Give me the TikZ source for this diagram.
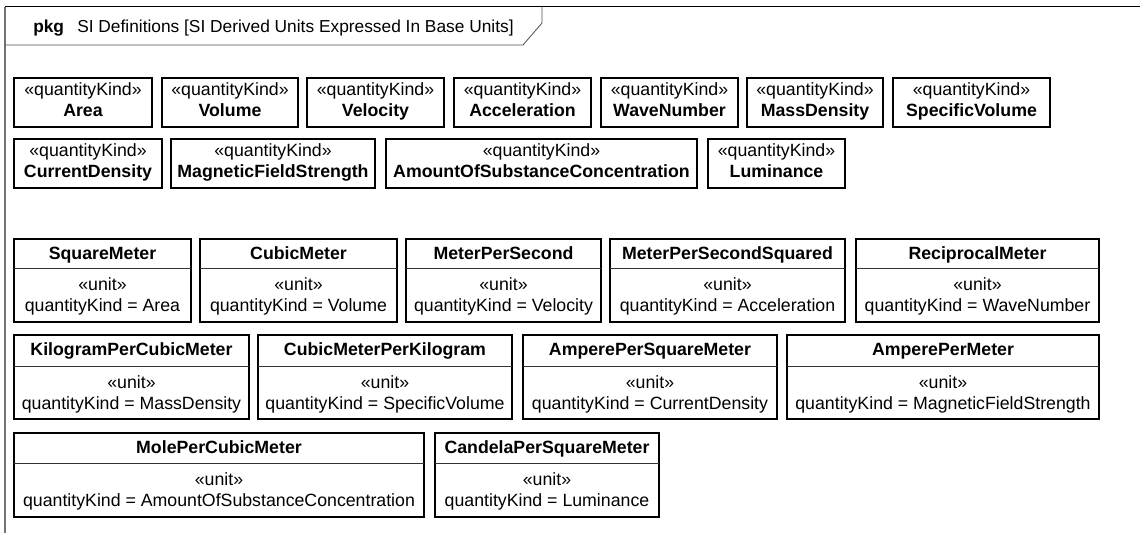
\documentclass[tikz,border=0pt]{standalone}
\usepackage{fontspec}
\setmainfont{Liberation Sans}
\usetikzlibrary{fit,calc}
\tikzset{
  boxshape/.style={draw=black, line width=1.25pt, inner sep=0pt},
  sepline/.style={draw=black!80, line width=0.6pt},
  txt/.style={inner sep=0pt, anchor=base, font=\fontsize{13.3}{15}\selectfont},
  btxt/.style={txt, font=\fontsize{13.3}{15}\selectfont\bfseries},
  framepen/.style={draw=black, line width=0.8pt},
  framegray/.style={draw=black!55, line width=1.5pt},
  tabpen/.style={draw=black!70, line width=0.6pt},
}
\newcommand\QK[5]{%
  \node[boxshape, fit={(#2,#4) (#3,#4+49)}] (#1) {};
  \node[txt] (#1s) at ($(#1.north)+(0,18.8)$) {«quantityKind»};
  \node[btxt] (#1n) at ($(#1.north)+(0,39.3)$) {#5};
}
\newcommand\UN[8]{%
  \node[boxshape, fit={(#2,#4) (#3,#6)}] (#1) {};
  \draw[sepline] (#2,#5) -- (#3,#5);
  \node[btxt] (#1h) at ({(#2+#3)/2},{#4+20.5}) {#7};
  \node[txt] (#1s) at ({(#2+#3)/2},{#5+22.5}) {«unit»};
  \node[txt] (#1k) at ({(#2+#3)/2},{#5+43.5}) {quantityKind = #8};
}
\begin{document}
\begin{tikzpicture}[x=0.75pt,y=-0.75pt]
\useasboundingbox (0,0) rectangle (1140,533);
% frame
\draw[framepen] (5,6.5) -- (1140,6.5);
\draw[framegray] (5,6.5) -- (5,533);
\draw[tabpen] (5,45) -- (523,45) -- (542,23) -- (542,6.5);
\node[inner sep=0pt, anchor=base west, font=\fontsize{13}{15}\selectfont\bfseries] (pkg) at (33,32.5) {pkg};
\node[inner sep=0pt, anchor=base west, font=\fontsize{13}{15}\selectfont] (title) at (77,32.5) {SI Definitions [SI Derived Units Expressed In Base Units]};
% quantity kinds row 1
\QK{area}{14}{152}{78}{Area}
\QK{volume}{162}{298}{78}{Volume}
\QK{velocity}{307}{444}{78}{Velocity}
\QK{accel}{454}{591}{78}{Acceleration}
\QK{wave}{601}{738}{78}{WaveNumber}
\QK{massd}{747}{883}{78}{MassDensity}
\QK{specv}{893}{1050}{78}{SpecificVolume}
% quantity kinds row 2
\QK{curd}{14}{162}{139}{CurrentDensity}
\QK{magf}{171}{375}{139}{MagneticFieldStrength}
\QK{amount}{386}{697}{139}{AmountOfSubstanceConcentration}
\QK{lum}{708}{845}{139}{Luminance}
% units row 1
\UN{sqm}{14}{191}{239}{268}{322}{SquareMeter}{Area}
\UN{cum}{200}{397}{239}{268}{322}{CubicMeter}{Volume}
\UN{mps}{406}{601}{239}{268}{322}{MeterPerSecond}{Velocity}
\UN{mpss}{610}{845}{239}{268}{322}{MeterPerSecondSquared}{Acceleration}
\UN{recm}{856}{1099}{239}{268}{322}{ReciprocalMeter}{WaveNumber}
% units row 2
\UN{kgpcm}{14}{249}{335}{366}{419}{KilogramPerCubicMeter}{MassDensity}
\UN{cmpkg}{258}{512}{335}{366}{419}{CubicMeterPerKilogram}{SpecificVolume}
\UN{apsm}{523}{777}{335}{366}{419}{AmperePerSquareMeter}{CurrentDensity}
\UN{apm}{787}{1099}{335}{366}{419}{AmperePerMeter}{MagneticFieldStrength}
% units row 3
\UN{molpcm}{14}{424}{433}{463}{517}{MolePerCubicMeter}{AmountOfSubstanceConcentration}
\UN{cdpsm}{435}{659}{433}{463}{517}{CandelaPerSquareMeter}{Luminance}
\end{tikzpicture}
\end{document}
